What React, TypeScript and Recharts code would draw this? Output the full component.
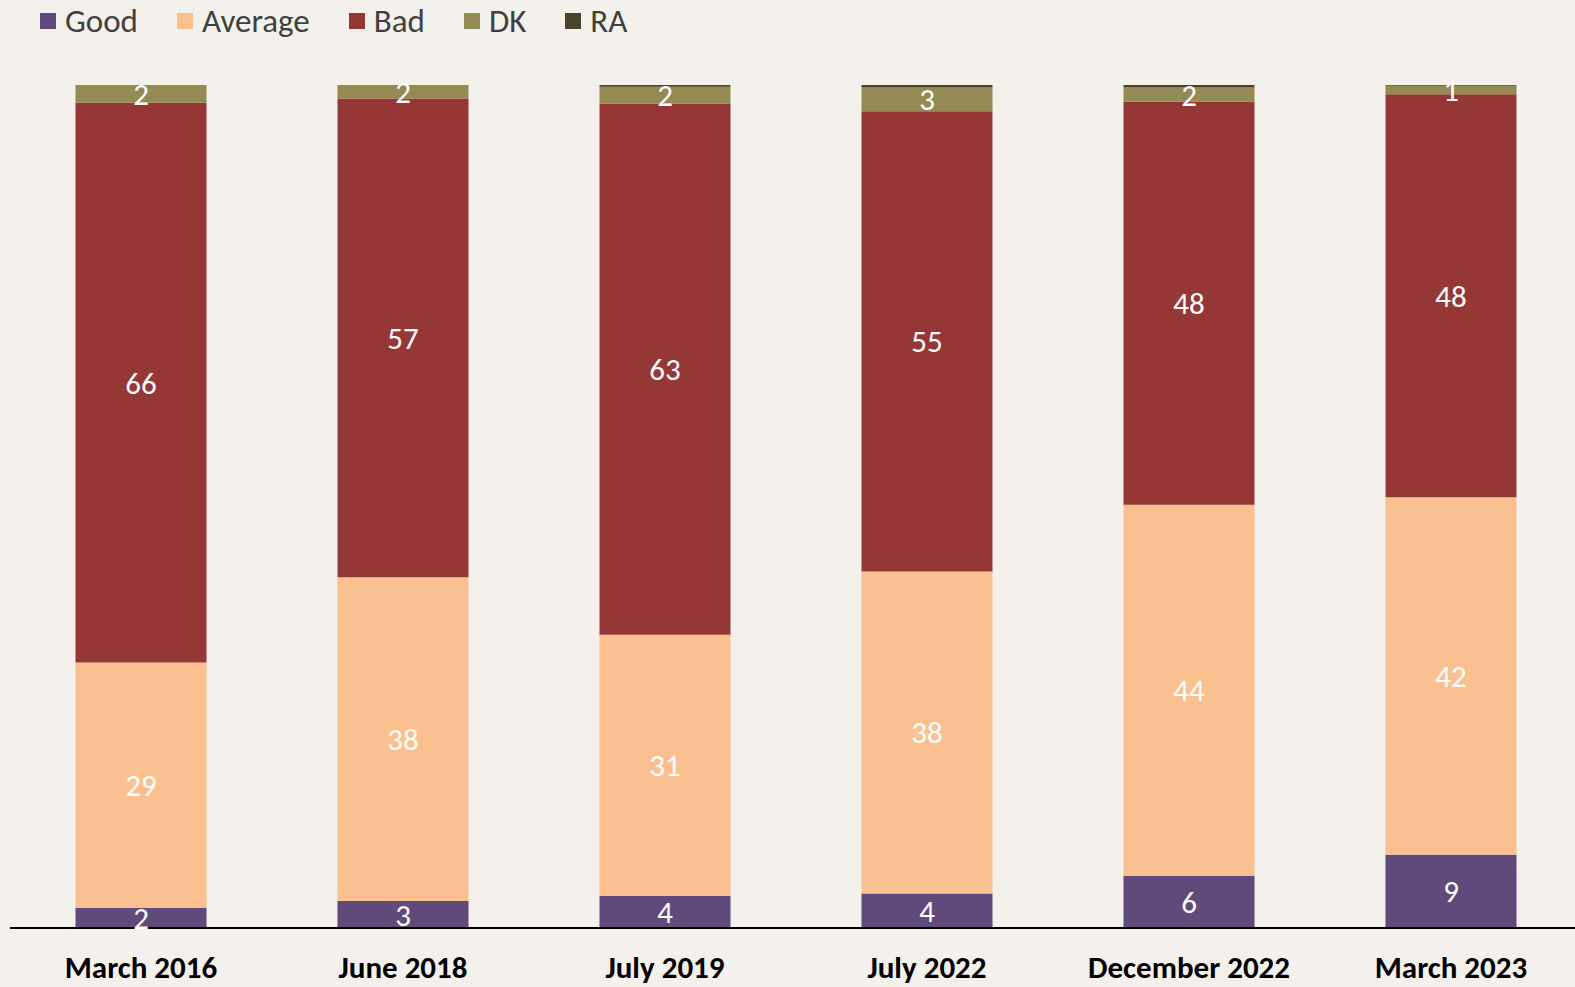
import { BarChart, Bar, XAxis, YAxis, LabelList } from 'recharts';

const periods = ['March 2016', 'June 2018', 'July 2019', 'July 2022', 'December 2022', 'March 2023'];
const good = [2.4, 3.2, 3.8, 4.1, 6.2, 8.7];
const average = [29.1, 38.4, 31.0, 38.2, 44.0, 42.4];
const bad = [66.4, 56.8, 63.0, 54.6, 47.8, 47.8];
const dk = [2.1, 1.6, 2.0, 2.8, 1.7, 1.0];
const ra = [0, 0, 0.2, 0.3, 0.3, 0.1];

const series = [
  { key: 'good', name: 'Good', color: '#604A7B', label: true },
  { key: 'average', name: 'Average', color: '#FAC090', label: true },
  { key: 'bad', name: 'Bad', color: '#953735', label: true },
  { key: 'dk', name: 'DK', color: '#948A54', label: true },
  { key: 'ra', name: 'RA', color: '#4A452A', label: false },
];

const data = periods.map((p, i) => ({
  period: p,
  good: good[i],
  average: average[i],
  bad: bad[i],
  dk: dk[i],
  ra: ra[i],
}));

const font = "Carlito, Lato, 'Open Sans', sans-serif";

function ChartLegend() {
  return (
    <div
      style={{
        position: 'absolute',
        top: 1,
        left: 40,
        display: 'flex',
        alignItems: 'center',
        fontFamily: font,
        fontSize: 33,
        color: '#404040',
        zIndex: 1,
      }}
    >
      {series.map((s) => (
        <div key={s.key} style={{ display: 'flex', alignItems: 'center', marginRight: 39 }}>
          <span style={{ width: 16, height: 16, background: s.color, marginRight: 9, display: 'inline-block' }} />
          <span>{s.name}</span>
        </div>
      ))}
    </div>
  );
}

export default function App() {
  return (
    <div style={{ width: 1575, height: 987, background: '#F4F1EC', position: 'relative', overflow: 'hidden' }}>
      <style>{'body{margin:0;overflow:hidden}'}</style>
      <ChartLegend />
      <BarChart
        width={1582}
        height={987}
        data={data}
        margin={{ top: 85, right: 0, left: 10, bottom: 3 }}
        barCategoryGap="25%"
      >
        <YAxis hide domain={[0, 100]} allowDataOverflow />
        <XAxis
          dataKey="period"
          height={56}
          tickLine={false}
          axisLine={{ stroke: '#000', strokeWidth: 2 }}
          tickMargin={22}
          tick={{ fill: '#000', fontSize: 31, fontWeight: 'bold', fontFamily: font }}
          interval={0}
        />
        {series.map((s) => (
          <Bar key={s.key} dataKey={s.key} name={s.name} stackId="a" fill={s.color} isAnimationActive={false}>
            {s.label && (
              <LabelList
                dataKey={s.key}
                position="center"
                fill="#fff"
                fontSize={31}
                fontFamily={font}
                formatter={(v: number) => Math.round(v)}
              />
            )}
          </Bar>
        ))}
      </BarChart>
    </div>
  );
}
